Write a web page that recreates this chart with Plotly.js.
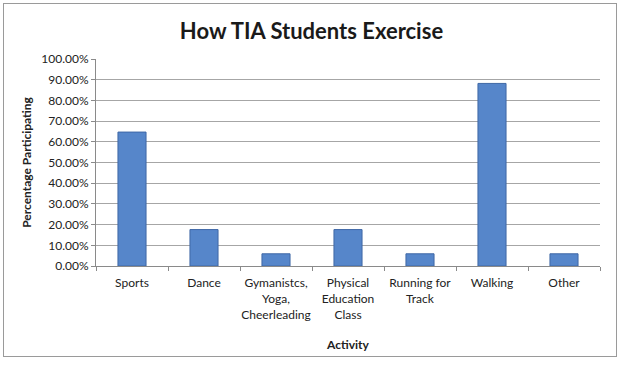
<!DOCTYPE html>
<html><head><meta charset="utf-8">
<script src="https://cdn.plot.ly/plotly-3.0.1.min.js"></script>
<style>
html,body{margin:0;padding:0;background:#fff;}
#frame{position:absolute;left:3px;top:3px;width:614px;height:354px;border:1px solid #9a9a9a;box-sizing:border-box;pointer-events:none;}
#chart{position:absolute;left:0;top:0;width:623px;height:365px;}
</style></head>
<body>
<div id="chart"></div>
<div id="frame"></div>
<script>
const categories = ["Sports","Dance","Gymanistcs,<br>Yoga,<br>Cheerleading","Physical<br>Education<br>Class","Running for<br>Track","Walking","Other"];
const participation = [0.647, 0.176, 0.059, 0.176, 0.059, 0.882, 0.059];
const titleText = "How TIA Students Exercise";
const xTitle = "Activity";
const yTitle = "Percentage Participating";

const font = "Lato, 'Open Sans', 'Liberation Sans', sans-serif";
Plotly.newPlot('chart', [{
  type: 'bar',
  x: categories,
  y: participation,
  marker: {color: '#5686CA', line: {color: '#3F68A6', width: 1}},
  hoverinfo: 'skip'
}], {
  width: 623, height: 365,
  margin: {l: 96, r: 23, t: 59, b: 99},
  paper_bgcolor: '#fff', plot_bgcolor: '#fff',
  bargap: 0.61,
  showlegend: false,
  title: {text: '<b>' + titleText + '</b>', x: 0.5, xanchor: 'center', y: 0.915, yanchor: 'middle',
          font: {family: font, size: 22, color: '#1a1a1a'}},
  font: {family: font, size: 12, color: '#222'},
  xaxis: {
    type: 'category', tickangle: 0,
    showgrid: false, showline: true, linecolor: '#8a8a8a', linewidth: 1,
    ticks: 'outside', tickson: 'boundaries', ticklen: 4, tickcolor: '#8a8a8a',
    ticklabelstandoff: 6,
    tickfont: {family: font, size: 12, color: '#222'},
    title: {text: '<b>' + xTitle + '</b>', font: {family: font, size: 12, color: '#222'}, standoff: 20},
    automargin: false
  },
  yaxis: {
    range: [0, 1], dtick: 0.1, tick0: 0, tickformat: '.2%',
    showgrid: true, gridcolor: '#a6a6a6', gridwidth: 1,
    showline: true, linecolor: '#8a8a8a', linewidth: 1,
    ticks: 'outside', ticklen: 4, tickcolor: '#8a8a8a',
    tickfont: {family: font, size: 12, color: '#222'},
    title: {text: '<b>' + yTitle + '</b>', font: {family: font, size: 12, color: '#222'}, standoff: 7},
    zeroline: false, automargin: false
  }
}, {staticPlot: true, displayModeBar: false});
</script>
</body></html>
